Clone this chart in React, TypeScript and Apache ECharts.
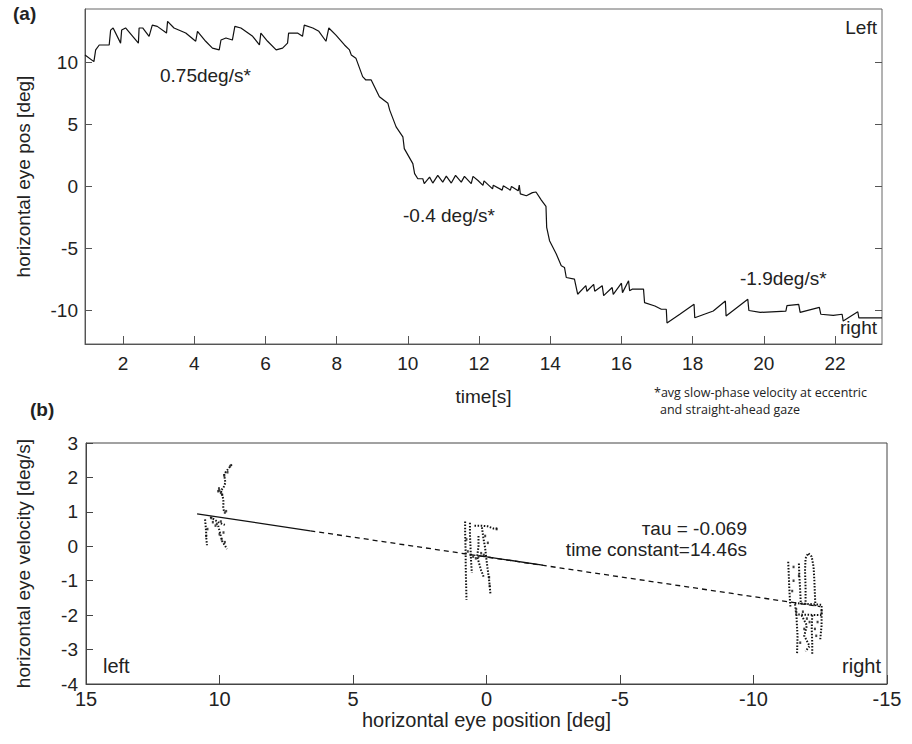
import React, { useEffect, useRef } from "react";
import * as echarts from "echarts";

// ---------- panel (a): horizontal eye position vs time ----------
const timeTicks = [2, 4, 6, 8, 10, 12, 14, 16, 18, 20, 22];
const posTicks = [-10, -5, 0, 5, 10];
const eyePosTrace: number[][] = [
  [0.93, 10.6], [1.18, 10.06], [1.23, 11.0], [1.33, 11.4], [1.61, 11.4], [1.65, 12.6], [1.72, 12.77],
  [1.93, 11.55], [1.96, 12.6], [2.07, 12.77], [2.43, 11.55], [2.45, 12.77], [2.55, 12.77], [2.73, 12.1],
  [2.82, 13.0], [2.96, 12.9], [3.22, 12.36], [3.25, 13.3], [3.43, 12.77], [3.76, 12.36], [4.04, 11.7],
  [4.09, 12.5], [4.32, 11.7], [4.51, 11.15], [4.7, 11.0], [4.75, 11.8], [4.89, 11.96], [5.07, 11.8],
  [5.14, 12.9], [5.31, 12.77], [5.64, 12.1], [5.83, 11.4], [5.87, 12.36], [6.06, 11.7], [6.3, 11.0],
  [6.48, 11.15], [6.62, 11.55], [6.65, 12.36], [6.9, 12.36], [7.04, 12.1], [7.09, 13.0], [7.33, 12.77],
  [7.5, 12.5], [7.7, 11.7], [7.78, 12.77], [7.98, 12.2], [8.22, 11.4], [8.36, 11.0], [8.41, 10.6],
  [8.54, 10.34], [8.73, 8.85], [8.82, 8.58], [8.97, 8.58], [9.2, 7.23], [9.44, 6.7], [9.49, 6.15],
  [9.67, 4.8], [9.86, 4.0], [9.9, 3.05], [10.14, 1.84], [10.19, 1.03], [10.28, 0.62], [10.42, 0.62],
  [10.46, 0.22], [10.61, 0.75], [10.7, 0.27], [10.84, 0.89], [10.98, 0.35], [11.08, 0.83], [11.22, 0.27],
  [11.34, 0.89], [11.5, 0.35], [11.59, 0.81], [11.78, 0.22], [11.83, 0.81], [11.97, 0.48], [12.11, 0.08],
  [12.14, 0.45], [12.38, -0.2], [12.4, 0.1], [12.65, -0.3], [12.68, 0.05], [12.88, -0.3], [12.91, 0.0],
  [13.1, -0.35], [13.13, 0.1], [13.16, -0.6], [13.33, -0.75], [13.5, -0.5], [13.6, -0.45], [13.75, -1.1],
  [13.88, -1.6], [13.9, -3.3], [13.98, -4.37], [14.17, -5.45], [14.31, -6.4], [14.4, -6.53], [14.45, -7.34],
  [14.68, -7.47], [14.77, -8.69], [15.0, -8.0], [15.03, -8.45], [15.22, -7.9], [15.25, -8.45], [15.46, -8.0],
  [15.5, -8.8], [15.74, -8.15], [15.77, -8.7], [16.0, -7.8], [16.03, -8.56], [16.2, -7.6], [16.23, -8.4],
  [16.3, -8.28], [16.62, -8.28], [16.65, -9.37], [16.94, -9.64], [17.12, -9.9], [17.26, -9.9], [17.28, -11.0],
  [17.64, -10.3], [18.04, -9.5], [18.06, -10.58], [18.58, -10.04], [18.92, -9.23], [18.94, -10.45],
  [19.55, -9.1], [19.58, -10.0], [19.9, -10.15], [20.62, -10.05], [20.65, -9.6], [20.98, -9.5], [21.02, -10.15],
  [21.56, -9.75], [21.6, -10.3], [21.95, -10.4], [22.2, -10.3], [22.23, -10.85], [22.64, -10.1], [22.67, -10.6],
  [23.32, -10.6],
];

// ---------- panel (b): eye velocity vs eye position ----------
const fitSolidA: number[][] = [[10.84, 0.94], [6.6, 0.45]];
const fitDashed: number[][] = [[6.6, 0.45], [-12.49, -1.75]];
const fitSolidB: number[][] = [[0.3, -0.27], [-2.1, -0.55]];

const cluster1Strands: number[][][] = [
  [[9.54, 2.38], [9.62, 2.3], [9.72, 2.2], [9.83, 2.1], [9.8, 1.95], [9.78, 1.85], [9.85, 1.7], [9.95, 1.62], [9.88, 1.45], [9.85, 1.3], [9.86, 1.15], [9.83, 1.0]],
  [[10.54, 0.78], [10.52, 0.6], [10.5, 0.4], [10.49, 0.2], [10.47, 0.03]],
  [[10.05, 0.6], [10.0, 0.45], [9.95, 0.3], [9.9, 0.15], [9.78, 0.0], [9.72, -0.08]],
  [[10.35, 0.85], [10.2, 0.78], [10.05, 0.7], [9.9, 0.65], [9.8, 0.62]],
];
const cluster1Dots: number[][] = [
  [9.6, 2.33], [9.7, 2.15], [9.82, 2.05], [10.02, 1.68], [10.0, 1.62], [9.95, 1.55], [10.05, 1.6], [9.9, 1.5],
  [9.75, 1.02], [9.8, 0.98], [10.3, 0.82], [10.25, 0.7], [10.1, 0.65], [9.95, 0.72], [10.15, 0.6], [10.0, 0.35],
  [9.92, 0.2], [10.45, 0.5], [10.5, 0.3], [9.85, 0.4], [9.8, 0.12],
];
const cluster2Strands: number[][][] = [
  [[0.8, 0.72], [0.8, 0.4], [0.79, 0.1], [0.78, -0.2], [0.78, -0.5], [0.77, -0.9], [0.76, -1.2], [0.75, -1.55]],
  [[0.62, 0.68], [0.62, 0.35], [0.6, 0.0], [0.58, -0.4], [0.55, -0.77]],
  [[0.45, 0.6], [0.2, 0.6], [-0.05, 0.58], [-0.25, 0.52], [-0.4, 0.52]],
  [[0.17, 0.55], [0.12, 0.25], [0.05, -0.05], [0.0, -0.4], [-0.05, -0.7], [-0.1, -1.0], [-0.15, -1.4]],
  [[0.3, 0.3], [0.3, 0.0], [0.35, -0.3], [0.2, -0.7], [0.1, -0.9]],
];
const cluster2Dots: number[][] = [
  [0.7, -0.15], [0.6, -0.25], [0.5, -0.3], [0.4, -0.35], [0.3, -0.3], [0.2, -0.2], [0.1, -0.25], [0.75, 0.2],
  [-0.05, 0.1], [0.05, 0.3], [-0.1, -0.9], [-0.12, -1.15], [-0.38, 0.5],
];
const cluster3Strands: number[][][] = [
  [[-11.95, -1.7], [-11.95, -1.2], [-11.93, -0.7], [-11.95, -0.35], [-12.05, -0.2], [-12.18, -0.3], [-12.25, -0.6], [-12.28, -1.0], [-12.3, -1.4], [-12.32, -1.75]],
  [[-11.3, -0.45], [-11.32, -0.8], [-11.34, -1.2], [-11.36, -1.5], [-11.38, -1.75]],
  [[-11.7, -0.5], [-11.72, -0.9], [-11.75, -1.3], [-11.77, -1.65]],
  [[-11.55, -1.65], [-12.55, -1.7], [-12.55, -2.0], [-11.6, -1.98], [-11.55, -1.65]],
  [[-11.6, -1.8], [-11.62, -2.2], [-11.65, -2.6], [-11.63, -3.15]],
  [[-12.2, -2.0], [-12.18, -2.4], [-12.2, -2.8], [-12.2, -3.15]],
  [[-12.55, -1.85], [-12.55, -2.3], [-12.5, -2.7]],
  [[-11.8, -2.0], [-12.0, -2.3], [-11.9, -2.6], [-12.1, -2.9], [-11.95, -3.05]],
];
const cluster3Dots: number[][] = [
  [-11.5, -1.0], [-11.45, -1.3], [-11.85, -1.9], [-12.0, -2.1], [-12.1, -2.2], [-12.3, -2.4], [-12.35, -2.6],
  [-11.9, -2.4], [-11.75, -2.8], [-12.4, -2.2], [-11.7, -0.85], [-11.5, -0.6],
];

const FONT = "'Liberation Sans', Arial, sans-serif";
const NARROW = "'Liberation Sans Narrow', 'Liberation Sans', Arial, sans-serif";
const INK = "#111";
const AXIS = "#555";

function strandSeries(strands: number[][][]) {
  return strands.map((s) => ({
    type: "line",
    xAxisIndex: 1,
    yAxisIndex: 2,
    data: s,
    showSymbol: false,
    silent: true,
    lineStyle: { color: INK, width: 2, type: [1.5, 1.6] },
  }));
}

function dotSeries(d: number[][]) {
  return {
    type: "scatter",
    xAxisIndex: 1,
    yAxisIndex: 2,
    data: d,
    symbol: "rect",
    symbolSize: [2, 2.5],
    itemStyle: { color: INK },
    silent: true,
  };
}

export default function App() {
  const ref = useRef<HTMLDivElement>(null);
  useEffect(() => {
    if (!ref.current) return;
    const chart = echarts.init(ref.current, undefined, { renderer: "svg" });
    const labelStyle = { fontFamily: FONT, fontSize: 19, color: "#222" };
    const option: any = {
      animation: false,
      backgroundColor: "#fff",
      grid: [
        { left: 85, top: 9, width: 797, height: 335, show: true, borderColor: "#666", borderWidth: 1, outerBoundsMode: "none" },
        { left: 86, top: 443, width: 801, height: 241, show: true, borderColor: "#444", borderWidth: 1, outerBoundsMode: "none" },
      ],
      xAxis: [
        {
          type: "value", gridIndex: 0, min: 0.93, max: 23.32,
          axisLine: { show: true, onZero: false, lineStyle: { color: AXIS } },
          axisTick: { show: true, inside: true, length: 8, lineStyle: { color: AXIS }, customValues: timeTicks },
          axisLabel: { ...labelStyle, margin: 10, customValues: timeTicks },
          splitLine: { show: false },
          name: "time[s]", nameLocation: "middle", nameGap: 43,
          nameTextStyle: { fontFamily: FONT, fontSize: 19, color: "#222" },
        },
        {
          type: "value", gridIndex: 1, min: -15, max: 15, interval: 5, inverse: true,
          axisLine: { show: true, onZero: false, lineStyle: { color: "#444" } },
          axisTick: { show: true, inside: true, length: 9, lineStyle: { color: "#444" } },
          axisLabel: { fontFamily: NARROW, fontSize: 20, color: "#222", margin: 5 },
          splitLine: { show: false },
          name: "horizontal eye position [deg]", nameLocation: "middle", nameGap: 26,
          nameTextStyle: { fontFamily: NARROW, fontSize: 20, color: "#222" },
        },
      ],
      yAxis: [
        {
          type: "value", gridIndex: 0, min: -12.7, max: 14.3,
          axisLine: { show: true, onZero: false, lineStyle: { color: AXIS } },
          axisTick: { show: true, inside: true, length: 7, lineStyle: { color: AXIS }, customValues: posTicks },
          axisLabel: { ...labelStyle, margin: 7, customValues: posTicks },
          splitLine: { show: false },
          name: "horizontal eye pos [deg]", nameLocation: "middle", nameGap: 52,
          nameTextStyle: { fontFamily: FONT, fontSize: 19, color: "#222" },
        },
        {
          type: "value", gridIndex: 0, min: -12.7, max: 14.3, position: "right",
          axisLine: { show: false, onZero: false },
          axisTick: { show: true, inside: true, length: 7, lineStyle: { color: AXIS }, customValues: posTicks },
          axisLabel: { show: false },
          splitLine: { show: false },
        },
        {
          type: "value", gridIndex: 1, min: -4, max: 3, interval: 1,
          axisLine: { show: true, onZero: false, lineStyle: { color: "#444" } },
          axisTick: { show: true, inside: true, length: 7, lineStyle: { color: "#444" } },
          axisLabel: { ...labelStyle, margin: 8 },
          splitLine: { show: false },
          name: "horizontal eye velocity [deg/s]", nameLocation: "middle", nameGap: 53,
          nameTextStyle: { fontFamily: FONT, fontSize: 19, color: "#222" },
        },
      ],
      series: [
        {
          type: "line", xAxisIndex: 0, yAxisIndex: 0, data: eyePosTrace, showSymbol: false, silent: true,
          lineStyle: { color: INK, width: 1.2 },
        },
        {
          type: "line", xAxisIndex: 1, yAxisIndex: 2, data: fitSolidA, showSymbol: false, silent: true,
          lineStyle: { color: INK, width: 1.3 },
        },
        {
          type: "line", xAxisIndex: 1, yAxisIndex: 2, data: fitDashed, showSymbol: false, silent: true,
          lineStyle: { color: INK, width: 1.3, type: [5, 4] },
        },
        {
          type: "line", xAxisIndex: 1, yAxisIndex: 2, data: fitSolidB, showSymbol: false, silent: true,
          lineStyle: { color: INK, width: 1.3 },
        },
        ...strandSeries(cluster1Strands),
        ...strandSeries(cluster2Strands),
        ...strandSeries(cluster3Strands),
        dotSeries(cluster1Dots),
        dotSeries(cluster2Dots),
        dotSeries(cluster3Dots),
      ],
      graphic: [
        { type: "text", x: 13, y: 13, style: { text: "(a)", font: `bold 19px ${FONT}`, fill: "#222", verticalAlign: "middle", textVerticalAlign: "middle" } },
        { type: "text", x: 30, y: 409, style: { text: "(b)", font: `bold 19px ${FONT}`, fill: "#222", verticalAlign: "middle", textVerticalAlign: "middle" } },
        { type: "text", x: 877, y: 27, style: { text: "Left", font: `19px ${FONT}`, fill: "#222", align: "right", textAlign: "right", verticalAlign: "middle", textVerticalAlign: "middle" } },
        { type: "text", x: 877, y: 327, style: { text: "right", font: `19px ${FONT}`, fill: "#222", align: "right", textAlign: "right", verticalAlign: "middle", textVerticalAlign: "middle" } },
        { type: "text", x: 160, y: 75, style: { text: "0.75deg/s*", font: `19px ${FONT}`, fill: "#222", verticalAlign: "middle", textVerticalAlign: "middle" } },
        { type: "text", x: 403, y: 215, style: { text: "-0.4 deg/s*", font: `19px ${FONT}`, fill: "#222", verticalAlign: "middle", textVerticalAlign: "middle" } },
        { type: "text", x: 740, y: 278, style: { text: "-1.9deg/s*", font: `19px ${FONT}`, fill: "#222", verticalAlign: "middle", textVerticalAlign: "middle" } },
        { type: "text", x: 654, y: 392, style: { text: "*avg slow-phase velocity at eccentric", font: `12.5px 'Open Sans', ${FONT}`, fill: "#222", verticalAlign: "middle", textVerticalAlign: "middle" } },
        { type: "text", x: 660, y: 409, style: { text: "and straight-ahead gaze", font: `12.5px 'Open Sans', ${FONT}`, fill: "#222", verticalAlign: "middle", textVerticalAlign: "middle" } },
        { type: "text", x: 747, y: 528, style: { text: "тau = -0.069", font: `19px ${FONT}`, fill: "#222", align: "right", textAlign: "right", verticalAlign: "middle", textVerticalAlign: "middle" } },
        { type: "text", x: 747, y: 549, style: { text: "time constant=14.46s", font: `19px ${FONT}`, fill: "#222", align: "right", textAlign: "right", verticalAlign: "middle", textVerticalAlign: "middle" } },
        { type: "text", x: 103, y: 666, style: { text: "left", font: `20px ${NARROW}`, fill: "#222", verticalAlign: "middle", textVerticalAlign: "middle" } },
        { type: "text", x: 881, y: 666, style: { text: "right", font: `20px ${NARROW}`, fill: "#222", align: "right", textAlign: "right", verticalAlign: "middle", textVerticalAlign: "middle" } },
      ],
    };
    chart.setOption(option);
    return () => chart.dispose();
  }, []);
  return <div ref={ref} style={{ width: 912, height: 744, position: "absolute", left: 0, top: 0 }} />;
}
